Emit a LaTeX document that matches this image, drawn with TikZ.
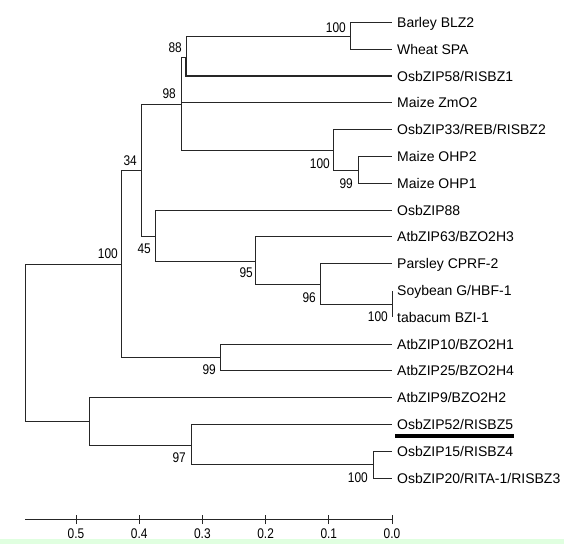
\documentclass[tikz,border=0pt]{standalone}
\usepackage{fontspec}
\setmainfont{Liberation Sans}
\begin{document}
\begin{tikzpicture}[x=1pt,y=-1pt,
  br/.style={line width=1pt, draw=black!85},
  leaflab/.style={anchor=base west, inner sep=0pt, font=\fontsize{14}{16}\selectfont},
  boot/.style={anchor=base east, inner sep=0pt, font=\fontsize{14}{16}\selectfont, xscale=0.85},
  ticklab/.style={anchor=base, inner sep=0pt, font=\fontsize{14}{16}\selectfont, xscale=0.85}]
\useasboundingbox (0,0) rectangle (564,544);
\fill[white] (0,0) rectangle (564,544);
\fill[green!12!white] (0,539) rectangle (564,544);
% leaf tips
\foreach \i in {0,...,17}{
  \coordinate (L\i) at (392,{22.5+26.8*\i});
}
\node[leaflab] (T0) at (397,27.5) {Barley BLZ2};
\node[leaflab] (T1) at (397,54.3) {Wheat SPA};
\node[leaflab] (T2) at (397,81.1) {OsbZIP58/RISBZ1};
\node[leaflab] (T3) at (397,107.9) {Maize ZmO2};
\node[leaflab] (T4) at (397,134.7) {OsbZIP33/REB/RISBZ2};
\node[leaflab] (T5) at (397,161.5) {Maize OHP2};
\node[leaflab] (T6) at (397,188.3) {Maize OHP1};
\node[leaflab] (T7) at (397,215.1) {OsbZIP88};
\node[leaflab] (T8) at (397,241.9) {AtbZIP63/BZO2H3};
\node[leaflab] (T9) at (397,268.7) {Parsley CPRF-2};
\node[leaflab] (T10) at (397,295.5) {Soybean G/HBF-1};
\node[leaflab] (T11) at (397,322.3) {tabacum BZI-1};
\node[leaflab] (T12) at (397,349.1) {AtbZIP10/BZO2H1};
\node[leaflab] (T13) at (397,375.9) {AtbZIP25/BZO2H4};
\node[leaflab] (T14) at (397,402.7) {AtbZIP9/BZO2H2};
\node[leaflab] (T15) at (397,429.5) {OsbZIP52/RISBZ5};
\node[leaflab] (T16) at (397,456.3) {OsbZIP15/RISBZ4};
\node[leaflab] (T17) at (397,483.1) {OsbZIP20/RITA-1/RISBZ3};
% internal nodes
\coordinate (root) at (25,342.5);
\coordinate (nA) at (121,264);
\coordinate (n34) at (141,170);
\coordinate (n98) at (181,104);
\coordinate (n88) at (186,57);
\coordinate (nB) at (350,36);
\coordinate (nC) at (333,150.5);
\coordinate (n99b) at (358,170);
\coordinate (n45) at (155,236);
\coordinate (n95) at (255,261);
\coordinate (n96) at (320,284);
\coordinate (nD) at (392,304.5);
\coordinate (n99a) at (220,357.5);
\coordinate (n89) at (89,421);
\coordinate (n97) at (191,445);
\coordinate (nE) at (373,464.5);
% branches
\draw[br] (root) |- (nA);
\draw[br] (root) |- (n89);
\draw[br] (nA) |- (n34);
\draw[br] (nA) |- (n99a);
\draw[br] (n34) |- (n98);
\draw[br] (n34) |- (n45);
\draw[br] (n98) |- (n88);
\draw[br] (n98) |- (L3);
\draw[br] (n98) |- (nC);
\draw[br] (n88) |- (nB);
\draw[br, line width=1.7pt] (n88) |- (L2);
\draw[br] (nB) |- (L0);
\draw[br] (nB) |- (L1);
\draw[br] (nC) |- (L4);
\draw[br] (nC) |- (n99b);
\draw[br] (n99b) |- (L5);
\draw[br] (n99b) |- (L6);
\draw[br] (n45) |- (L7);
\draw[br] (n45) |- (n95);
\draw[br] (n95) |- (L8);
\draw[br] (n95) |- (n96);
\draw[br] (n96) |- (L9);
\draw[br] (n96) |- (nD);
\draw[br] (nD) |- (L10);
\draw[br] (nD) |- (L11);
\draw[br] (n99a) |- (L12);
\draw[br] (n99a) |- (L13);
\draw[br] (n89) |- (L14);
\draw[br] (n89) |- (n97);
\draw[br] (n97) |- (L15);
\draw[br] (n97) |- (nE);
\draw[br] (nE) |- (L16);
\draw[br] (nE) |- (L17);
% bootstrap values
\node[boot] (b1) at (118,258) {100};
\node[boot] (b2) at (137,165) {34};
\node[boot] (b3) at (176,98) {98};
\node[boot] (b4) at (182,52) {88};
\node[boot] (b5) at (346,32) {100};
\node[boot] (b6) at (330,168) {100};
\node[boot] (b7) at (353,188) {99};
\node[boot] (b8) at (151,253) {45};
\node[boot] (b9) at (253,277) {95};
\node[boot] (b10) at (316,302) {96};
\node[boot] (b11) at (388,321) {100};
\node[boot] (b12) at (216,374) {99};
\node[boot] (b13) at (186,462) {97};
\node[boot] (b14) at (368,482) {100};
% underline
\draw[line width=3.5pt] ([xshift=-2pt,yshift=-6.5pt]T15.base west) -- ([xshift=1pt,yshift=-6.5pt]T15.base east);
% scale axis
\coordinate (ax0) at (25,519);
\coordinate (ax1) at (392,519);
\draw[br] (ax0) -- (ax1);
\foreach \k in {0,...,5}{
  \coordinate (tk\k) at ({392-63.2*\k},519);
  \draw[br] ([yshift=-5pt]tk\k) -- ([yshift=4pt]tk\k);
  \node[ticklab] (tl\k) at ({392-63.2*\k},538) {0.\k};
}
\end{tikzpicture}
\end{document}
